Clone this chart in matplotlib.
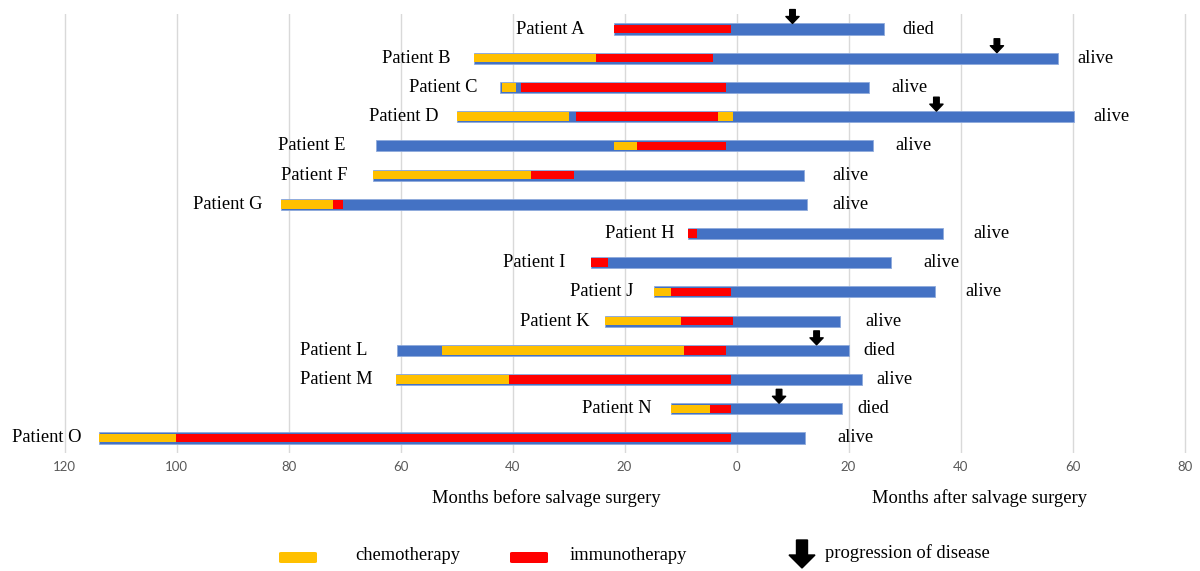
import matplotlib
matplotlib.use("Agg")
import matplotlib.pyplot as plt
from matplotlib.patches import FancyBboxPatch

# ---------------- data ----------------
patients = ["Patient A", "Patient B", "Patient C", "Patient D", "Patient E",
            "Patient F", "Patient G", "Patient H", "Patient I", "Patient J",
            "Patient K", "Patient L", "Patient M", "Patient N", "Patient O"]
start = [-21.9, -46.9, -42.2, -50.0, -64.4, -65.0, -81.3, -8.7, -25.9, -14.7,
         -23.4, -60.7, -60.8, -11.7, -113.9]
end = [26.3, 57.4, 23.7, 60.3, 24.4, 12.1, 12.5, 36.8, 27.5, 35.4,
       18.5, 20.0, 22.4, 18.8, 12.2]
chemo = [[], [(-46.9, -25.1)], [(-41.9, -39.4)], [(-50.0, -29.9), (-3.25, -0.7)],
         [(-21.9, -17.7)], [(-65.0, -36.7)], [(-81.3, -72.0)], [], [],
         [(-14.7, -11.75)], [(-23.4, -10.0)], [(-52.6, -9.4)], [(-60.8, -40.6)],
         [(-11.7, -4.7)], [(-113.9, -100.1)]]
immuno = [[(-21.9, -0.9)], [(-25.1, -4.2)], [(-38.5, -1.9)], [(-28.7, -3.25)],
          [(-17.7, -1.9)], [(-36.7, -29.0)], [(-72.0, -70.2)], [(-8.7, -7.0)],
          [(-25.9, -22.9)], [(-11.75, -1.0)], [(-10.0, -0.6)], [(-9.4, -1.9)],
          [(-40.6, -1.0)], [(-4.7, -1.0)], [(-100.1, -1.0)]]
outcome = ["died", "alive", "alive", "alive", "alive", "alive", "alive", "alive",
           "alive", "alive", "alive", "died", "alive", "died", "alive"]
progression = {0: 10.0, 1: 46.5, 3: 35.7, 11: 14.3, 13: 7.6}
tick_values = [-120, -100, -80, -60, -40, -20, 0, 20, 40, 60, 80]

# ---------------- style ----------------
BLUE = "#4472C4"
RED = "#FF0000"
YELLOW = "#FFC000"
SERIF = "Liberation Serif"
FS = 13.3
name_gap = [5.2, 4.1, 4.1, 3.2, 5.4, 4.5, 3.4, 2.3, 4.6, 3.75, 2.9, 5.2, 4.1, 3.4, 3.0]
out_gap = [3.4, 3.4, 3.9, 3.4, 3.9, 5.0, 4.6, 5.5, 5.9, 5.5, 4.6, 2.7, 2.5, 2.7, 5.9]

W, H = 1200, 571
fig = plt.figure(figsize=(W / 100, H / 100), dpi=100)
x0, x1 = -122, 82
left_px = 736.5 + x0 * 5.6
right_px = 736.5 + x1 * 5.6
top_px, bot_px = 14.4, 452.6
ax = fig.add_axes([left_px / W, 1 - bot_px / H, (right_px - left_px) / W, (bot_px - top_px) / H])
ax.set_xlim(x0, x1)
ax.set_ylim(len(patients) - 0.5, -0.5)

for s in ax.spines.values():
    s.set_visible(False)
ax.set_yticks([])
ax.set_xticks(tick_values)
ax.set_xticklabels([str(abs(v)) for v in tick_values], fontsize=9.5, color="#595959",
                   family="Lato")
ax.tick_params(axis="x", length=0, pad=6)
ax.grid(axis="x", color="#D9D9D9", lw=1)
ax.set_axisbelow(True)

for i, name in enumerate(patients):
    ax.barh(i, end[i] - start[i], left=start[i], height=0.38, color=BLUE,
            edgecolor="#8FAADC", lw=0.6, zorder=2)
    for (a, b) in chemo[i]:
        ax.barh(i, b - a, left=a, height=0.29, color=YELLOW, lw=0, zorder=3)
    for (a, b) in immuno[i]:
        ax.barh(i, b - a, left=a, height=0.29, color=RED, lw=0, zorder=4)
    ax.text(start[i] - name_gap[i], i, name, ha="right", va="center",
            family=SERIF, fontsize=FS, color="black")
    ax.text(end[i] + out_gap[i], i, outcome[i], ha="left", va="center",
            family=SERIF, fontsize=FS, color="black")

for i, xv in progression.items():
    ax.annotate("", xy=(xv, i - 0.19), xytext=(0, 10), textcoords="offset points",
                arrowprops=dict(arrowstyle="simple,head_length=0.5,head_width=0.95,tail_width=0.4",
                                color="black", shrinkA=0, shrinkB=0), zorder=6)

fig.text(546 / W, 1 - 498 / H, "Months before salvage surgery", ha="center", va="center",
         family=SERIF, fontsize=FS)
fig.text(980 / W, 1 - 498 / H, "Months after salvage surgery", ha="center", va="center",
         family=SERIF, fontsize=FS)


def legend_box(x_px, color):
    fig.patches.append(FancyBboxPatch((x_px / W, 1 - 563 / H), 38 / W, 11 / H,
                                      boxstyle="round,pad=0,rounding_size=0.002",
                                      transform=fig.transFigure, facecolor=color,
                                      edgecolor="none"))


legend_box(279, YELLOW)
fig.text(355 / W, 1 - 555 / H, "chemotherapy", ha="left", va="center", family=SERIF, fontsize=FS)
legend_box(510, RED)
fig.text(570 / W, 1 - 555 / H, "immunotherapy", ha="left", va="center", family=SERIF, fontsize=FS)
fig.patches.append(matplotlib.patches.FancyArrow(802 / W, 1 - 540 / H, 0, -28 / H,
                                                 width=11 / W, head_width=26 / W,
                                                 head_length=13 / H, length_includes_head=True,
                                                 transform=fig.transFigure, color="black"))
fig.text(825 / W, 1 - 553 / H, "progression of disease", ha="left", va="center",
         family=SERIF, fontsize=FS)

fig.savefig("out.png", dpi=100, facecolor="white")
